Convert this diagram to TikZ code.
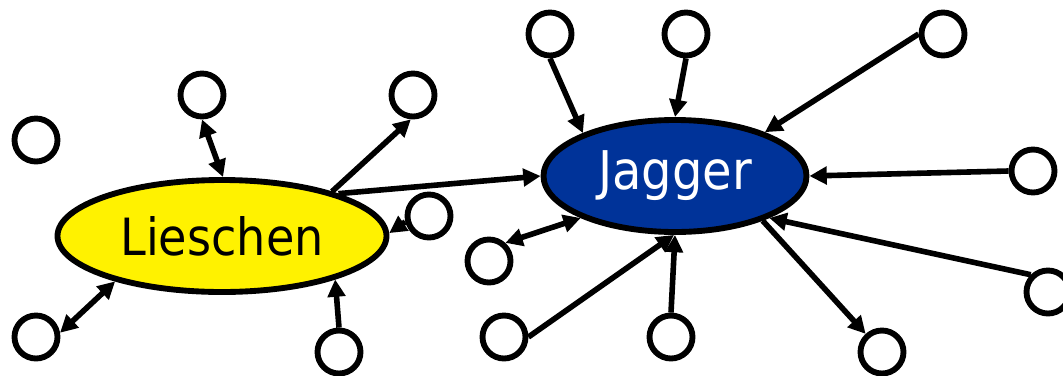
\documentclass[tikz,border=0pt]{standalone}
\usepackage{fontspec}
\setmainfont{DejaVu Sans}[FakeStretch=0.9]
\usetikzlibrary{shapes.geometric,arrows.meta}
\tikzset{
  small/.style={circle, draw=black, line width=4.4pt, minimum size=32.25pt, inner sep=0pt, fill=white},
  big/.style={ellipse, draw=black, line width=4.4pt, inner sep=0pt},
  conn/.style={line width=4.2pt, -{Triangle[length=13pt,width=13pt]}},
  biconn/.style={line width=4.2pt, {Triangle[length=13pt,width=13pt]}-{Triangle[length=13pt,width=13pt]}}
}
\definecolor{jblue}{RGB}{0,51,153}
\begin{document}
\begin{tikzpicture}[x=0.75pt,y=-0.75pt]
\useasboundingbox (0,0) rectangle (1063,375);
% main nodes
\node[big, fill=yellow, minimum width=246.75pt, minimum height=84pt] (L) at (222,236)
  {\fontsize{38.5}{40}\selectfont Lieschen};
\node[big, fill=jblue, minimum width=197.25pt, minimum height=84pt] (J) at (675,176)
  {\fontsize{40}{42}\selectfont\color{white}Jagger};
% small circles around Lieschen
\node[small] (c1) at (36,140) {};
\node[small] (c2) at (202,95) {};
\node[small] (c3) at (413,95) {};
\node[small] (c4) at (429,216) {};
\node[small] (c5) at (36,337) {};
\node[small] (c6) at (339,352) {};
% small circles around Jagger
\node[small] (t1) at (550,34) {};
\node[small] (t2) at (686,34) {};
\node[small] (t3) at (943,34) {};
\node[small] (r1) at (1033,171) {};
\node[small] (r2) at (1048,292) {};
\node[small] (b1) at (882,352) {};
\node[small] (b2) at (671,337) {};
\node[small] (b3) at (504,337) {};
\node[small] (l1) at (489,261) {};
% Lieschen connectors
\draw[biconn] (c2.-90) -- (L.89);
\draw[conn] (L.22) -- (c3.-95);
\draw[conn] (L.20) -- (J.180);
\draw[conn] (c4.194) -- (L.1);
\draw[biconn] (c5.10) -- (L.203);
\draw[conn] (c6.90) -- (L.-21);
% Jagger connectors
\draw[conn] (t1.-90) -- (J.155);
\draw[conn] (t2.-90) -- (J.90);
\draw[conn] (t3.180) -- (J.26);
\draw[conn] (r1.180) -- (J.0);
\draw[conn] (r2.135) -- (J.-24);
\draw[conn] (J.-27) -- (b1.132);
\draw[conn] (b2.90) -- (J.-90);
\draw[conn] (b3.0) -- (J.-91);
\draw[biconn] (l1.48) -- (J.204);
\end{tikzpicture}
\end{document}
